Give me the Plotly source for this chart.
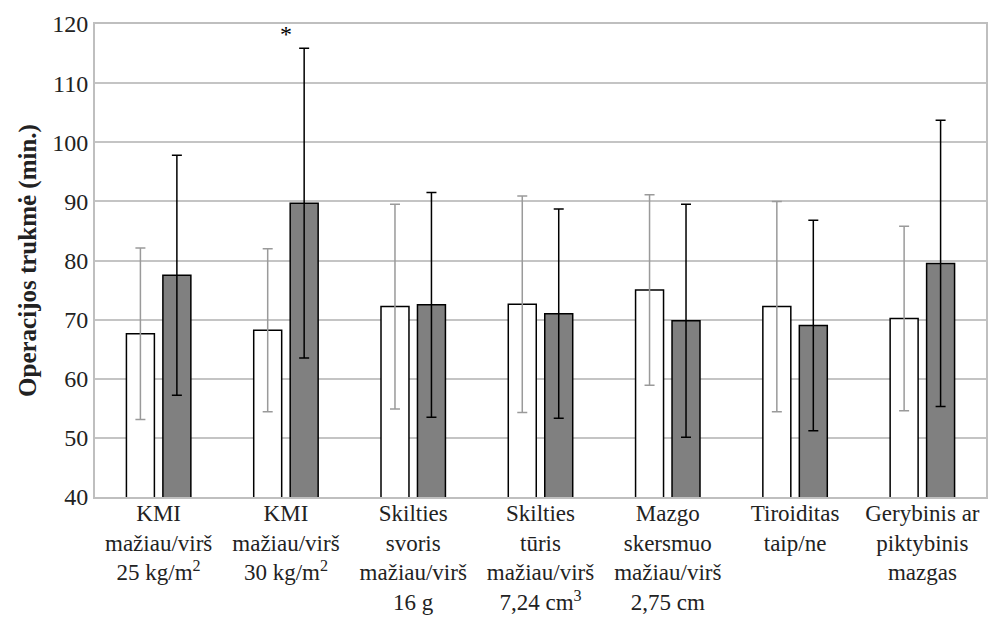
import plotly.graph_objects as go

categories = [
    "KMI<br>mažiau/virš<br>25 kg/m<sup>2</sup>",
    "KMI<br>mažiau/virš<br>30 kg/m<sup>2</sup>",
    "Skilties<br>svoris<br>mažiau/virš<br>16 g",
    "Skilties<br>tūris<br>mažiau/virš<br>7,24 cm<sup>3</sup>",
    "Mazgo<br>skersmuo<br>mažiau/virš<br>2,75 cm",
    "Tiroiditas<br>taip/ne",
    "Gerybinis ar<br>piktybinis<br>mazgas",
]
below_values = [67.6, 68.2, 72.2, 72.6, 75.0, 72.2, 70.2]
below_err = [14.5, 13.8, 17.3, 18.3, 16.1, 17.8, 15.6]
above_values = [77.5, 89.7, 72.5, 71.0, 69.8, 69.0, 79.5]
above_err = [20.3, 26.2, 19.0, 17.7, 19.7, 17.8, 24.2]
y_ticks = [40, 50, 60, 70, 80, 90, 100, 110, 120]

FONT = "Liberation Serif"

fig = go.Figure()
fig.add_trace(go.Bar(
    x=categories, y=below_values,
    marker=dict(color="white", line=dict(color="black", width=1.5)),
    error_y=dict(type="data", array=below_err, visible=True,
                 color="#9a9a9a", thickness=1.5, width=5),
    showlegend=False,
))
fig.add_trace(go.Bar(
    x=categories, y=above_values,
    marker=dict(color="#808080", line=dict(color="black", width=1.5)),
    error_y=dict(type="data", array=above_err, visible=True,
                 color="black", thickness=1.5, width=5),
    showlegend=False,
))

fig.add_annotation(x=categories[1], y=118.3, text="*", showarrow=False,
                   font=dict(family=FONT, size=24, color="#000000"))

fig.update_layout(
    width=992, height=624,
    margin=dict(l=95, r=6, t=24, b=127),
    paper_bgcolor="white", plot_bgcolor="white",
    barmode="group", bargap=0.427, bargroupgap=0.233,
    font=dict(family=FONT, color="#222222", size=24),
    xaxis=dict(showline=True, linecolor="#bfbfbf", linewidth=2, mirror=True,
               showgrid=False, ticks="", automargin=False,
               ticklabelstandoff=-6,
               tickfont=dict(family=FONT, size=23)),
    yaxis=dict(range=[40, 120], tickvals=y_ticks, showline=True,
               linecolor="#bfbfbf", linewidth=2, mirror=True,
               showgrid=True, gridcolor="#c4c4c4", gridwidth=1.5,
               ticks="", tickfont=dict(family=FONT, size=24), zeroline=False,
               automargin=False,
               title=dict(text="<b>Operacijos trukmė (min.)</b>",
                          font=dict(family=FONT, size=25), standoff=8)),
)

fig.write_html("out.html")
